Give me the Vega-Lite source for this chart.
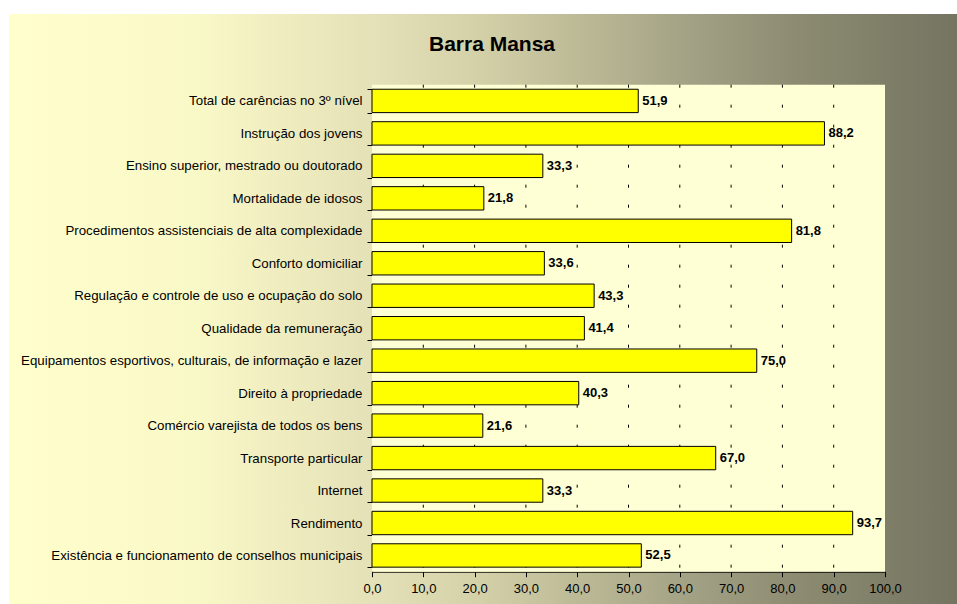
{
  "$schema": "https://vega.github.io/schema/vega-lite/v6.json",
  "width": 948,
  "height": 590,
  "autosize": {"type": "none"},
  "padding": {"left": 9, "top": 14, "right": 0, "bottom": 0},
  "background": "#FFFFFF",
  "view": {
    "stroke": null,
    "fill": {
      "gradient": "linear",
      "x1": 0, "y1": 0, "x2": 1, "y2": 0,
      "stops": [
        {"offset": 0, "color": "#FFFFCC"},
        {"offset": 0.2, "color": "#F9F8C7"},
        {"offset": 0.39, "color": "#E4E0B7"},
        {"offset": 0.5, "color": "#D3D0A8"},
        {"offset": 0.62, "color": "#B8B693"},
        {"offset": 0.73, "color": "#A09F83"},
        {"offset": 0.83, "color": "#8D8C72"},
        {"offset": 1, "color": "#747461"}
      ]
    }
  },
  "title": {
    "text": "Barra Mansa",
    "font": "Liberation Sans",
    "fontSize": 21,
    "fontWeight": "bold",
    "color": "#000000",
    "anchor": "middle",
    "frame": "group",
    "baseline": "alphabetic",
    "offset": -65,
    "dx": 9
  },
  "config": {
    "locale": {
      "number": {"decimal": ",", "thousands": ".", "grouping": [3], "currency": ["R$", ""]}
    },
    "axisX": {
      "title": null,
      "offset": -32.3,
      "tickCount": 10,
      "format": ".1f",
      "grid": false,
      "domainColor": "#000000",
      "domainWidth": 1,
      "tickColor": "#000000",
      "tickSize": 5,
      "labelFont": "Liberation Sans",
      "labelFontSize": 13,
      "labelColor": "#000000",
      "labelPadding": 6,
      "labelFlush": false,
      "labelOverlap": false
    }
  },
  "layer": [
    {
      "layer": [
        {
          "data": {"values": [{"a": 0, "b": 100}]},
          "mark": {"type": "rect", "fill": "#FFFFD5"},
          "encoding": {
            "x": {"field": "a", "type": "quantitative", "scale": {"domain": [0, 100], "range": [363, 876], "nice": false, "zero": true}},
            "x2": {"field": "b"},
            "y": {"datum": 0, "type": "quantitative", "scale": {"domain": [0, 1], "range": [70.7, 557.7], "nice": false}, "axis": null},
            "y2": {"datum": 1}
          }
        },
        {
          "data": {"values": [{"a": 10}, {"a": 20}, {"a": 30}, {"a": 40}, {"a": 50}, {"a": 60}, {"a": 70}, {"a": 80}, {"a": 90}]},
          "mark": {"type": "rule", "color": "#000000", "strokeWidth": 1, "strokeDash": [3, 17]},
          "encoding": {
            "x": {"field": "a", "type": "quantitative", "scale": {"domain": [0, 100], "range": [363, 876], "nice": false, "zero": true}},
            "y": {"datum": 0, "type": "quantitative", "scale": {"domain": [0, 1], "range": [70.7, 557.7], "nice": false}, "axis": null},
            "y2": {"datum": 1}
          }
        }
      ]
    },
    {
      "data": {
        "values": [
          {"cat": "Total de carências no 3º nível", "v": 51.9},
          {"cat": "Instrução dos jovens", "v": 88.2},
          {"cat": "Ensino superior, mestrado ou doutorado", "v": 33.3},
          {"cat": "Mortalidade de idosos", "v": 21.8},
          {"cat": "Procedimentos assistenciais de alta complexidade", "v": 81.8},
          {"cat": "Conforto domiciliar", "v": 33.6},
          {"cat": "Regulação e controle de uso e ocupação do solo", "v": 43.3},
          {"cat": "Qualidade da remuneração", "v": 41.4},
          {"cat": "Equipamentos esportivos, culturais, de informação e lazer", "v": 75.0},
          {"cat": "Direito à propriedade", "v": 40.3},
          {"cat": "Comércio varejista de todos os bens", "v": 21.6},
          {"cat": "Transporte particular", "v": 67.0},
          {"cat": "Internet", "v": 33.3},
          {"cat": "Rendimento", "v": 93.7},
          {"cat": "Existência e funcionamento de conselhos municipais", "v": 52.5}
        ]
      },
      "encoding": {
        "y": {
          "field": "cat", "type": "nominal", "sort": null,
          "scale": {"range": [70.7, 557.7], "paddingInner": 0.28, "paddingOuter": 0.14},
          "axis": {
            "title": null,
            "offset": -363,
            "domainColor": "#000000",
            "domainWidth": 1,
            "tickColor": "#000000",
            "tickSize": 5,
            "tickBand": "extent",
            "labelFont": "Liberation Sans",
            "labelFontSize": 13.3,
            "labelColor": "#000000",
            "labelPadding": 5,
            "labelLimit": 500,
            "grid": false
          }
        }
      },
      "layer": [
        {
          "mark": {"type": "bar", "fill": "#FFFF00", "stroke": "#000000", "strokeWidth": 1},
          "encoding": {
            "x": {
              "field": "v", "type": "quantitative",
              "scale": {"domain": [0, 100], "range": [363, 876], "nice": false, "zero": true}
            }
          }
        },
        {
          "mark": {"type": "text", "align": "left", "baseline": "middle", "dx": 4, "font": "Liberation Sans", "fontSize": 13, "fontWeight": "bold", "color": "#000000"},
          "encoding": {
            "x": {"field": "v", "type": "quantitative"},
            "text": {"field": "v", "type": "quantitative", "format": ".1f"}
          }
        }
      ]
    }
  ],
  "resolve": {"scale": {"y": "independent"}, "axis": {"y": "independent"}}
}
